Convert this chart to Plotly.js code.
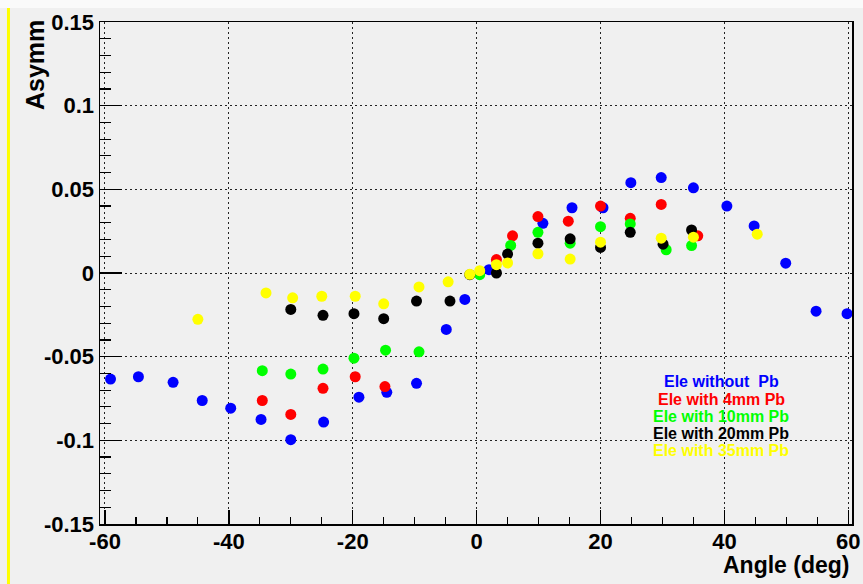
<!DOCTYPE html>
<html>
<head>
<meta charset="utf-8">
<script src="https://cdn.plot.ly/plotly-3.0.1.min.js"></script>
<style>html,body{margin:0;padding:0;background:#f0f0f0;}#plot{width:863px;height:584px;}</style>
</head>
<body>
<div id="plot"></div>
<script>
// Series names (legend texts)
const seriesNames = ["Ele without \u00a0Pb", "Ele with 4mm Pb", "Ele with 10mm Pb", "Ele with 20mm Pb", "Ele with 35mm Pb"];
const seriesColors = ["#0000ff", "#ff0000", "#00ff00", "#000000", "#ffff00"];

// Ele without Pb
const blueX = [-59.1, -54.6, -49.0, -44.3, -39.7, -34.8, -30.0, -24.7, -19.0, -14.5, -9.7, -4.9, -1.9, 2.0, 10.7, 15.4, 20.4, 24.9, 29.8, 35.0, 40.4, 44.8, 49.9, 54.8, 59.8];
const blueY = [-0.0634, -0.062, -0.0653, -0.0762, -0.0808, -0.0875, -0.0996, -0.0891, -0.0742, -0.0713, -0.0659, -0.0337, -0.0158, 0.002, 0.0297, 0.039, 0.039, 0.054, 0.057, 0.0509, 0.040, 0.0281, 0.0059, -0.0228, -0.0243];

// Ele with 4mm Pb
const redX = [-34.6, -30.0, -24.8, -19.6, -14.8, 3.2, 5.8, 9.9, 14.8, 20.0, 24.8, 29.8, 35.7];
const redY = [-0.0762, -0.0845, -0.0689, -0.062, -0.0679, 0.008, 0.0222, 0.0337, 0.031, 0.040, 0.0327, 0.041, 0.0222];

// Ele with 10mm Pb
const greenX = [-34.6, -30.0, -24.8, -19.8, -14.7, -9.3, 0.5, 5.5, 9.9, 15.1, 20.0, 24.8, 30.6, 34.7];
const greenY = [-0.0584, -0.0604, -0.0574, -0.0509, -0.0461, -0.0471, -0.001, 0.0165, 0.0243, 0.0178, 0.0277, 0.0293, 0.0139, 0.0164];

// Ele with 20mm Pb
const blackX = [-30.0, -24.8, -19.8, -15.0, -9.7, -4.3, -1.1, 3.2, 5.0, 9.9, 15.1, 20.0, 24.8, 30.1, 34.7];
const blackY = [-0.0218, -0.0253, -0.0243, -0.0273, -0.0168, -0.0168, -0.001, 0.0, 0.0113, 0.0178, 0.0204, 0.0153, 0.0243, 0.0172, 0.0257];

// Ele with 35mm Pb
const yellowX = [-45.0, -34.0, -29.7, -25.0, -19.6, -15.0, -9.3, -4.6, -1.1, 0.5, 3.2, 5.0, 9.9, 15.1, 20.0, 29.8, 35.0, 45.3];
const yellowY = [-0.0277, -0.0119, -0.0148, -0.0139, -0.0139, -0.0184, -0.0083, -0.0053, -0.0008, 0.0014, 0.005, 0.006, 0.0115, 0.0083, 0.0184, 0.0208, 0.0214, 0.0232];

// Tick labels
const xTickVals = [-60, -40, -20, 0, 20, 40, 60];
const xTickText = ["-60", "-40", "-20", "0", "20", "40", "60"];
const yTickVals = [-0.15, -0.1, -0.05, 0, 0.05, 0.1, 0.15];
const yTickText = ["-0.15", "-0.1", "-0.05", "0", "0.05", "0.1", "0.15"];

const xTitle = "Angle (deg)";
const yTitle = "Asymm";

const seriesX = [blueX, redX, greenX, blackX, yellowX];
const seriesY = [blueY, redY, greenY, blackY, yellowY];

const traces = seriesX.map((xs, i) => ({
  type: 'scatter', mode: 'markers', x: xs, y: seriesY[i], name: seriesNames[i],
  marker: {color: seriesColors[i], size: 11, symbol: 'circle', line: {width: 0}},
  showlegend: false, hoverinfo: 'skip'
}));

const F = 'Liberation Sans, Arial, Helvetica, sans-serif';
// legend rows centred at pixel y 382, 399, 416, 433, 450 of a 502 px tall plot area starting at y=22
const legendY = [0.283, 0.249, 0.215, 0.181, 0.147];

const annotations = seriesNames.map((n, i) => ({
  xref: 'paper', yref: 'paper', x: 0.826, y: legendY[i], xanchor: 'center', yanchor: 'middle',
  text: n, showarrow: false, font: {family: F, size: 16, color: seriesColors[i], weight: 'bold'}
}));
annotations.push({xref: 'paper', yref: 'paper', x: 1.0, y: -0.082, xanchor: 'right', yanchor: 'middle',
  text: xTitle, showarrow: false, font: {family: F, size: 23, color: '#000', weight: 'bold'}});
annotations.push({xref: 'paper', yref: 'paper', x: -0.0864, y: 1.008, xanchor: 'center', yanchor: 'top',
  text: yTitle, textangle: -90, showarrow: false, font: {family: F, size: 25, color: '#000', weight: 'bold'}});

const axisCommon = {
  ticks: 'inside', tickcolor: '#000', tickwidth: 1.5,
  showgrid: true, gridcolor: '#222', griddash: '2px,3px', gridwidth: 1,
  showline: true, linecolor: '#000', linewidth: 1.5, mirror: true, zeroline: false,
  tickmode: 'array',
  tickfont: {family: F, size: 22, color: '#000', weight: 'bold'}
};

const layout = {
  width: 863, height: 584,
  margin: {l: 100, r: 11, t: 22, b: 60},
  paper_bgcolor: '#f0f0f0', plot_bgcolor: '#f0f0f0',
  showlegend: false,
  xaxis: Object.assign({}, axisCommon, {
    range: [-60.8, 60.6], tickvals: xTickVals, ticktext: xTickText, ticklen: 14,
    ticklabelstandoff: -3,
    minor: {tickmode: 'linear', tick0: 0, dtick: 5, ticks: 'inside', ticklen: 7, tickwidth: 1.2, tickcolor: '#000', showgrid: false}
  }),
  yaxis: Object.assign({}, axisCommon, {
    range: [-0.15, 0.15], tickvals: yTickVals, ticktext: yTickText, ticklen: 22,
    minor: {tickmode: 'linear', tick0: 0, dtick: 0.01, ticks: 'inside', ticklen: 11, tickwidth: 1.2, tickcolor: '#000', showgrid: false}
  }),
  annotations: annotations,
  shapes: [
    {type: 'rect', xref: 'paper', yref: 'paper', x0: -0.14, x1: 1.02, y0: 1.028, y1: 1.05, fillcolor: '#fafafa', line: {width: 0}, layer: 'below'},
    {type: 'line', xref: 'paper', yref: 'paper', x0: -0.1217, x1: -0.1217, y0: 1.028, y1: -0.125, line: {color: '#ffff00', width: 3}}
  ]
};

Plotly.newPlot('plot', traces, layout, {displayModeBar: false, staticPlot: true});
</script>
</body>
</html>
